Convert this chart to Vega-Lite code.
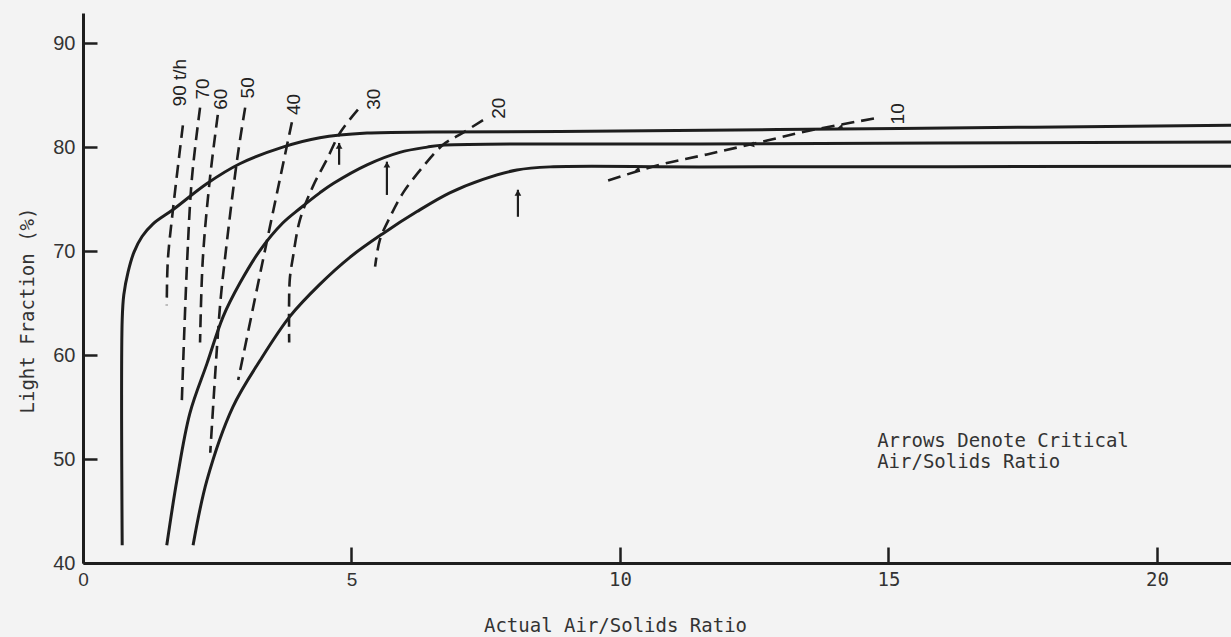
{
  "$schema": "https://vega.github.io/schema/vega-lite/v6.json",
  "width": 1148,
  "height": 550,
  "autosize": "none",
  "padding": {"left": 83, "top": 13, "right": 0, "bottom": 74},
  "background": "#f3f3f3",
  "config": {"view": {"stroke": null}},
  "datasets": {
    "solid": [
      {"series": "A", "i": 1, "x": 0.73, "y": 41.7},
      {"series": "A", "i": 2, "x": 0.73, "y": 63.4},
      {"series": "A", "i": 3, "x": 0.76, "y": 65.8},
      {"series": "A", "i": 4, "x": 0.84, "y": 68.0},
      {"series": "A", "i": 5, "x": 0.95, "y": 69.9},
      {"series": "A", "i": 6, "x": 1.1, "y": 71.4},
      {"series": "A", "i": 7, "x": 1.3, "y": 72.6},
      {"series": "A", "i": 8, "x": 1.68, "y": 74.0},
      {"series": "A", "i": 9, "x": 2.31, "y": 76.5},
      {"series": "A", "i": 10, "x": 2.92, "y": 78.4},
      {"series": "A", "i": 11, "x": 3.72, "y": 80.0},
      {"series": "A", "i": 12, "x": 4.41, "y": 80.9},
      {"series": "A", "i": 13, "x": 5.29, "y": 81.35},
      {"series": "A", "i": 14, "x": 6.5, "y": 81.45},
      {"series": "A", "i": 15, "x": 8.88, "y": 81.5},
      {"series": "A", "i": 16, "x": 15.2, "y": 81.8},
      {"series": "A", "i": 17, "x": 21.38, "y": 82.1},
      {"series": "B", "i": 1, "x": 1.56, "y": 41.7},
      {"series": "B", "i": 2, "x": 1.75, "y": 48.0},
      {"series": "B", "i": 3, "x": 1.99, "y": 54.4},
      {"series": "B", "i": 4, "x": 2.31, "y": 59.2},
      {"series": "B", "i": 5, "x": 2.61, "y": 63.7},
      {"series": "B", "i": 6, "x": 2.92, "y": 66.9},
      {"series": "B", "i": 7, "x": 3.3, "y": 70.1},
      {"series": "B", "i": 8, "x": 3.72, "y": 72.7},
      {"series": "B", "i": 9, "x": 4.04, "y": 74.1},
      {"series": "B", "i": 10, "x": 4.41, "y": 75.6},
      {"series": "B", "i": 11, "x": 4.66, "y": 76.5},
      {"series": "B", "i": 12, "x": 5.29, "y": 78.3},
      {"series": "B", "i": 13, "x": 5.9, "y": 79.5},
      {"series": "B", "i": 14, "x": 6.41, "y": 80.0},
      {"series": "B", "i": 15, "x": 6.74, "y": 80.2},
      {"series": "B", "i": 16, "x": 11.49, "y": 80.3},
      {"series": "B", "i": 17, "x": 21.38, "y": 80.5},
      {"series": "C", "i": 1, "x": 2.05, "y": 41.7},
      {"series": "C", "i": 2, "x": 2.31, "y": 48.0},
      {"series": "C", "i": 3, "x": 2.79, "y": 55.0},
      {"series": "C", "i": 4, "x": 3.3, "y": 59.5},
      {"series": "C", "i": 5, "x": 3.85, "y": 63.7},
      {"series": "C", "i": 6, "x": 4.41, "y": 66.8},
      {"series": "C", "i": 7, "x": 4.97, "y": 69.4},
      {"series": "C", "i": 8, "x": 5.59, "y": 71.7},
      {"series": "C", "i": 9, "x": 6.22, "y": 73.8},
      {"series": "C", "i": 10, "x": 6.83, "y": 75.6},
      {"series": "C", "i": 11, "x": 7.45, "y": 76.9},
      {"series": "C", "i": 12, "x": 8.08, "y": 77.8},
      {"series": "C", "i": 13, "x": 8.7, "y": 78.1},
      {"series": "C", "i": 14, "x": 11.49, "y": 78.1},
      {"series": "C", "i": 15, "x": 21.38, "y": 78.15}
    ],
    "dashed": [
      {"series": "90", "i": 1, "x": 1.86, "y": 82.1},
      {"series": "90", "i": 2, "x": 1.68, "y": 74.2},
      {"series": "90", "i": 3, "x": 1.58, "y": 69.1},
      {"series": "90", "i": 4, "x": 1.56, "y": 64.8},
      {"series": "70", "i": 1, "x": 2.18, "y": 83.8},
      {"series": "70", "i": 2, "x": 2.03, "y": 77.1},
      {"series": "70", "i": 3, "x": 1.94, "y": 69.1},
      {"series": "70", "i": 4, "x": 1.84, "y": 55.5},
      {"series": "60", "i": 1, "x": 2.51, "y": 83.1},
      {"series": "60", "i": 2, "x": 2.36, "y": 76.8},
      {"series": "60", "i": 3, "x": 2.23, "y": 69.1},
      {"series": "60", "i": 4, "x": 2.18, "y": 61.2},
      {"series": "50", "i": 1, "x": 3.02, "y": 83.8},
      {"series": "50", "i": 2, "x": 2.87, "y": 78.8},
      {"series": "50", "i": 3, "x": 2.64, "y": 69.1},
      {"series": "50", "i": 4, "x": 2.55, "y": 64.6},
      {"series": "50", "i": 5, "x": 2.37, "y": 50.6},
      {"series": "40", "i": 1, "x": 3.89, "y": 82.4},
      {"series": "40", "i": 2, "x": 3.35, "y": 69.1},
      {"series": "40", "i": 3, "x": 2.89, "y": 57.6},
      {"series": "30", "i": 1, "x": 5.12, "y": 83.6},
      {"series": "30", "i": 2, "x": 4.79, "y": 81.4},
      {"series": "30", "i": 3, "x": 4.54, "y": 78.8},
      {"series": "30", "i": 4, "x": 4.28, "y": 76.2},
      {"series": "30", "i": 5, "x": 4.04, "y": 73.0},
      {"series": "30", "i": 6, "x": 3.91, "y": 69.4},
      {"series": "30", "i": 7, "x": 3.85, "y": 67.2},
      {"series": "30", "i": 8, "x": 3.84, "y": 61.2},
      {"series": "20", "i": 1, "x": 7.45, "y": 82.6},
      {"series": "20", "i": 2, "x": 7.08, "y": 81.4},
      {"series": "20", "i": 3, "x": 6.7, "y": 80.2},
      {"series": "20", "i": 4, "x": 6.33, "y": 78.1},
      {"series": "20", "i": 5, "x": 5.96, "y": 75.6},
      {"series": "20", "i": 6, "x": 5.72, "y": 73.3},
      {"series": "20", "i": 7, "x": 5.53, "y": 71.1},
      {"series": "20", "i": 8, "x": 5.44, "y": 68.5},
      {"series": "10", "i": 1, "x": 9.78, "y": 76.8},
      {"series": "10", "i": 2, "x": 10.74, "y": 78.3},
      {"series": "10", "i": 3, "x": 11.62, "y": 79.3},
      {"series": "10", "i": 4, "x": 12.55, "y": 80.4},
      {"series": "10", "i": 5, "x": 13.54, "y": 81.6},
      {"series": "10", "i": 6, "x": 14.79, "y": 82.8}
    ],
    "labels": [
      {"label": "90 t/h", "x": 1.81, "y": 86.2},
      {"label": "70", "x": 2.23, "y": 85.6},
      {"label": "60", "x": 2.57, "y": 84.6},
      {"label": "50", "x": 3.07, "y": 85.7},
      {"label": "40", "x": 3.93, "y": 84.1},
      {"label": "30", "x": 5.42, "y": 84.6},
      {"label": "20", "x": 7.75, "y": 83.75},
      {"label": "10", "x": 15.18, "y": 83.2}
    ],
    "arrows": [
      {"x": 4.77, "y": 78.3, "y2": 80.4},
      {"x": 5.66, "y": 75.4, "y2": 78.6},
      {"x": 8.1, "y": 73.3, "y2": 75.9}
    ],
    "marks10": [
      {"x": 10.32, "y": 77.8},
      {"x": 12.45, "y": 80.2},
      {"x": 14.1, "y": 81.9}
    ]
  },
  "encoding": {
    "x": {
      "field": "x",
      "type": "quantitative",
      "scale": {"domain": [0, 21.38], "nice": false, "zero": false},
      "axis": {
        "title": "Actual Air/Solids Ratio",
        "values": [0, 5, 10, 15, 20],
        "grid": false,
        "domainColor": "#1e1e1e",
        "domainWidth": 3,
        "tickColor": "#1e1e1e",
        "tickWidth": 2.5,
        "tickSize": -16,
        "labelPadding": 23,
        "labelBaseline": "top",
        "labelFont": {"condition": {"test": "datum.value < 10", "value": "Liberation Sans"}, "value": "DejaVu Sans Mono"},
        "labelFontSize": 19,
        "labelColor": "#333333",
        "labelFlush": false,
        "labelOverlap": false,
        "titleFont": "DejaVu Sans Mono",
        "titleFontSize": 19,
        "titleFontWeight": "normal",
        "titleColor": "#333333",
        "titleX": 532,
        "titleY": 68,
        "titleAlign": "center",
        "titleBaseline": "alphabetic"
      }
    },
    "y": {
      "field": "y",
      "type": "quantitative",
      "scale": {"domain": [40, 92.9], "nice": false, "zero": false},
      "axis": {
        "title": "Light Fraction (%)",
        "values": [40, 50, 60, 70, 80, 90],
        "grid": false,
        "domainColor": "#1e1e1e",
        "domainWidth": 3,
        "tickColor": "#1e1e1e",
        "tickWidth": 2.5,
        "tickSize": -14,
        "labelPadding": 22,
        "labelFont": "Liberation Sans",
        "labelFontSize": 20,
        "labelColor": "#333333",
        "labelFlush": false,
        "labelOverlap": false,
        "titleFont": "DejaVu Sans Mono",
        "titleFontSize": 19,
        "titleFontWeight": "normal",
        "titleColor": "#333333",
        "titleAngle": 270,
        "titleX": -50,
        "titleY": 297,
        "titleAlign": "center",
        "titleBaseline": "alphabetic"
      }
    }
  },
  "layer": [
    {
      "data": {"name": "solid"},
      "mark": {"type": "line", "interpolate": "catmull-rom", "strokeWidth": 3, "color": "#1e1e1e"},
      "encoding": {"detail": {"field": "series"}, "order": {"field": "i", "type": "quantitative"}}
    },
    {
      "data": {"name": "dashed"},
      "mark": {"type": "line", "interpolate": "catmull-rom", "strokeWidth": 2.6, "strokeDash": [13, 7], "color": "#1e1e1e"},
      "encoding": {"detail": {"field": "series"}, "order": {"field": "i", "type": "quantitative"}}
    },
    {
      "data": {"name": "arrows"},
      "mark": {"type": "rule", "strokeWidth": 2.2, "color": "#1e1e1e"},
      "encoding": {"y2": {"field": "y2"}}
    },
    {
      "data": {"name": "arrows"},
      "mark": {"type": "point", "shape": "triangle-up", "filled": true, "size": 45, "yOffset": 3, "color": "#1e1e1e", "opacity": 1},
      "encoding": {"y": {"field": "y2", "type": "quantitative"}}
    },
    {
      "data": {"name": "marks10"},
      "mark": {"type": "point", "shape": "triangle-left", "filled": true, "size": 35, "angle": 347, "color": "#1e1e1e", "opacity": 1},
      "encoding": {}
    },
    {
      "data": {"name": "labels"},
      "mark": {"type": "text", "angle": 270, "font": "Liberation Sans", "fontSize": 19, "align": "center", "baseline": "middle", "color": "#222222"},
      "encoding": {"text": {"field": "label"}}
    },
    {
      "data": {"values": [{"x": 14.79, "y": 51.2, "note": "Arrows Denote Critical\nAir/Solids Ratio"}]},
      "mark": {"type": "text", "font": "DejaVu Sans Mono", "fontSize": 19, "align": "left", "baseline": "alphabetic", "lineBreak": "\n", "lineHeight": 21, "color": "#333333"},
      "encoding": {"text": {"field": "note"}}
    }
  ]
}
